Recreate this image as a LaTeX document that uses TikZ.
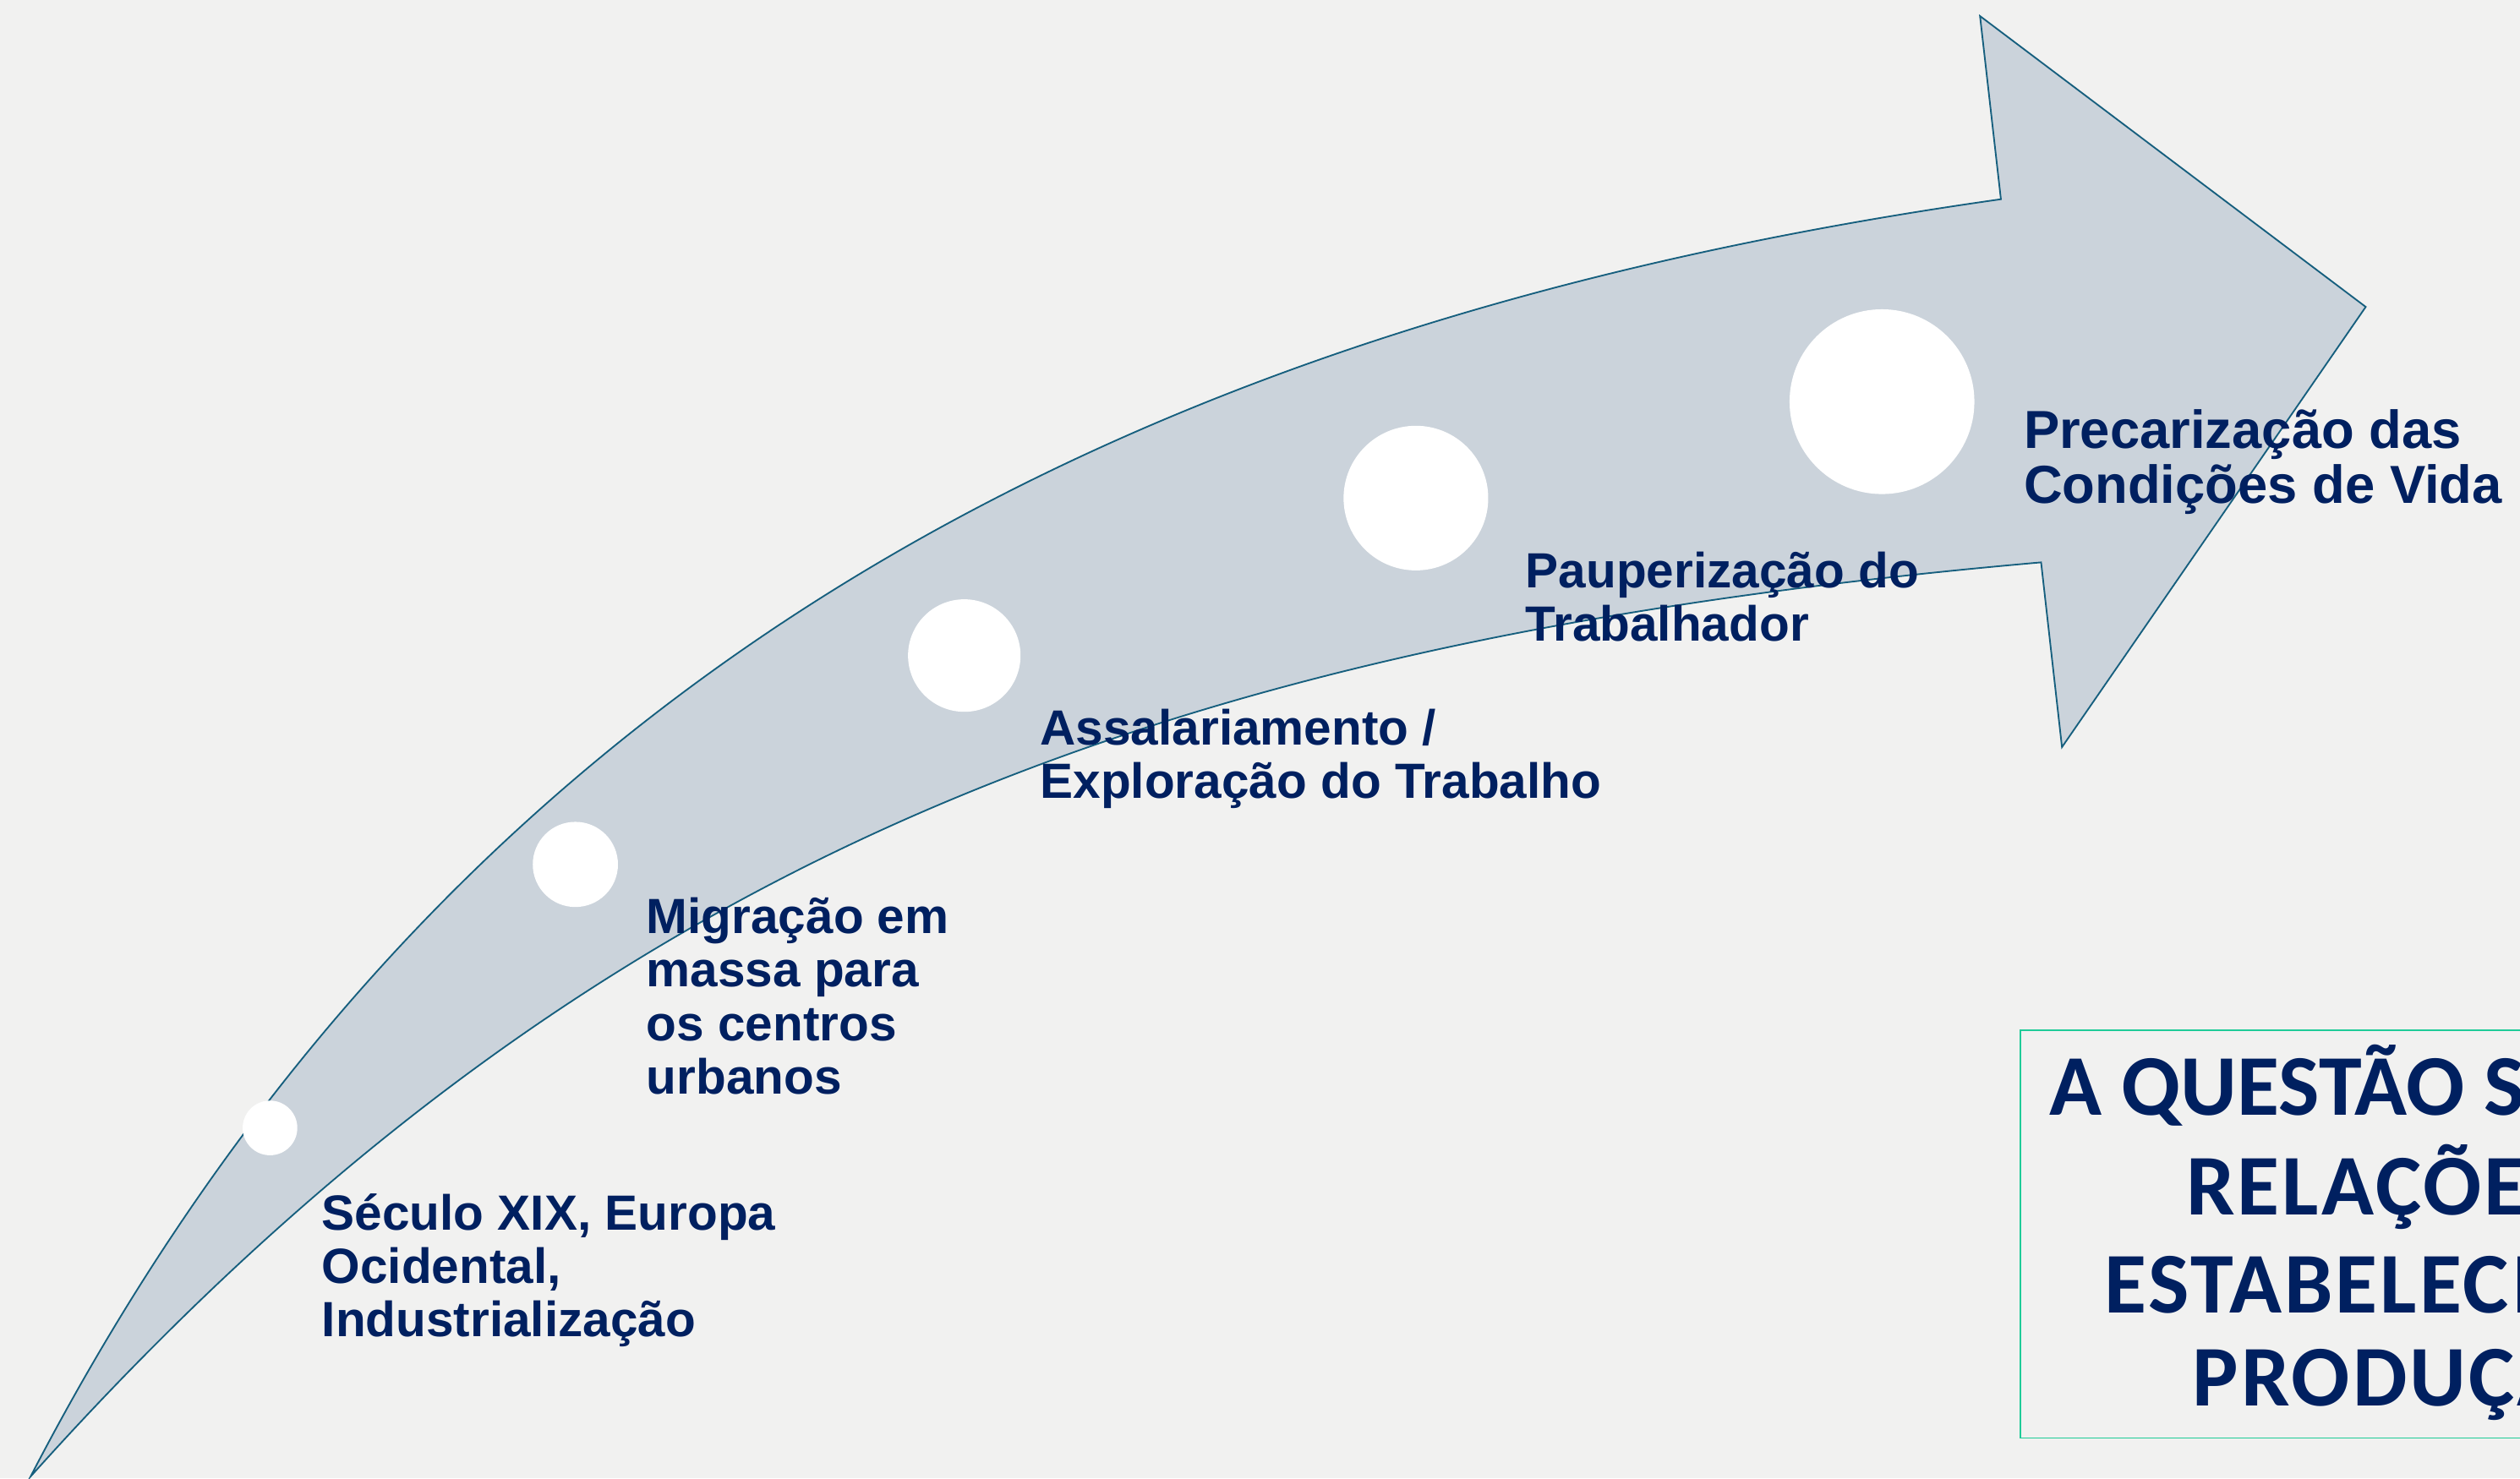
\documentclass[tikz,border=0pt]{standalone}
\usepackage{fontspec}
\newfontfamily\lblfont{Liberation Sans}
\newfontfamily\ttlfont{Carlito}
\definecolor{paper}{HTML}{F1F1F0}
\definecolor{band}{HTML}{CBD3DB}
\definecolor{bandline}{HTML}{165F7E}
\definecolor{navy}{HTML}{002060}
\definecolor{mint}{HTML}{1FCB98}

\begin{document}
\begin{tikzpicture}[
 x=0.25mm, y=-0.25mm,
 bandshape/.style={fill=band,draw=bandline,line width=0.7pt},
 dot/.style={circle,fill=white,inner sep=0pt},
 lbl/.style={anchor=base west,align=left,inner sep=0pt,text=navy,font=\lblfont\bfseries\fontsize{21.9pt}{23.7pt}\selectfont},
 lblbig/.style={lbl,font=\lblfont\bfseries\fontsize{23.7pt}{24.2pt}\selectfont},
 ttl/.style={anchor=base west,inner sep=0pt,text=navy,font=\ttlfont\bfseries\fontsize{38.3pt}{42pt}\selectfont},
 ttlwide/.style={ttl,font=\ttlfont\bfseries\fontsize{38.3pt}{42pt}\selectfont\addfontfeature{LetterSpace=3}},
 qframe/.style={draw=mint,line width=0.7pt},
]
\useasboundingbox (0,0) rectangle (1568,920);
\fill[paper] (0,0) rectangle (1568,920);
\clip (0,0) rectangle (1568,920);

% curved arrow
\draw[bandshape] (19,919) .. controls (277,421) and (700,201) .. (1245,124)
 -- (1232,10) -- (1472,191) -- (1283,465) -- (1270,350)
 .. controls (722,398) and (366,532) .. (19,919) -- cycle;

% steps
\node[dot,minimum size=8.5mm] (d1) at (168,702) {};
\node[dot,minimum size=13.25mm] (d2) at (358,538) {};
\node[dot,minimum size=17.5mm] (d3) at (600,408) {};
\node[dot,minimum size=22.5mm] (d4) at (881,310) {};
\node[dot,minimum size=28.75mm] (d5) at (1171,250) {};

% labels (base = last line)
\node[lbl] (l1) at (200,832) {Século XIX, Europa\\Ocidental,\\Industrialização};
\node[lbl] (l2) at (402,681) {Migração em\\massa para\\os centros\\urbanos};
\node[lbl] (l3) at (647,497) {Assalariamento /\\Exploração do Trabalho};
\node[lbl] (l4) at (949,399) {Pauperização do\\Trabalhador};
\node[lblbig] (l5) at (1259,313) {Precarização das\\Condições de Vida};

% title box
\draw[qframe] (1257,641) rectangle (1620,895);
\node[ttl] (t1) at (1275,694) {A QUESTÃO S};
\node[ttlwide] (t2) at (1360,756) {RELAÇÕE};
\node[ttlwide] (t3) at (1309,817) {ESTABELECI};
\node[ttlwide] (t4) at (1364,875) {PRODUÇÃ};
\end{tikzpicture}
\end{document}
